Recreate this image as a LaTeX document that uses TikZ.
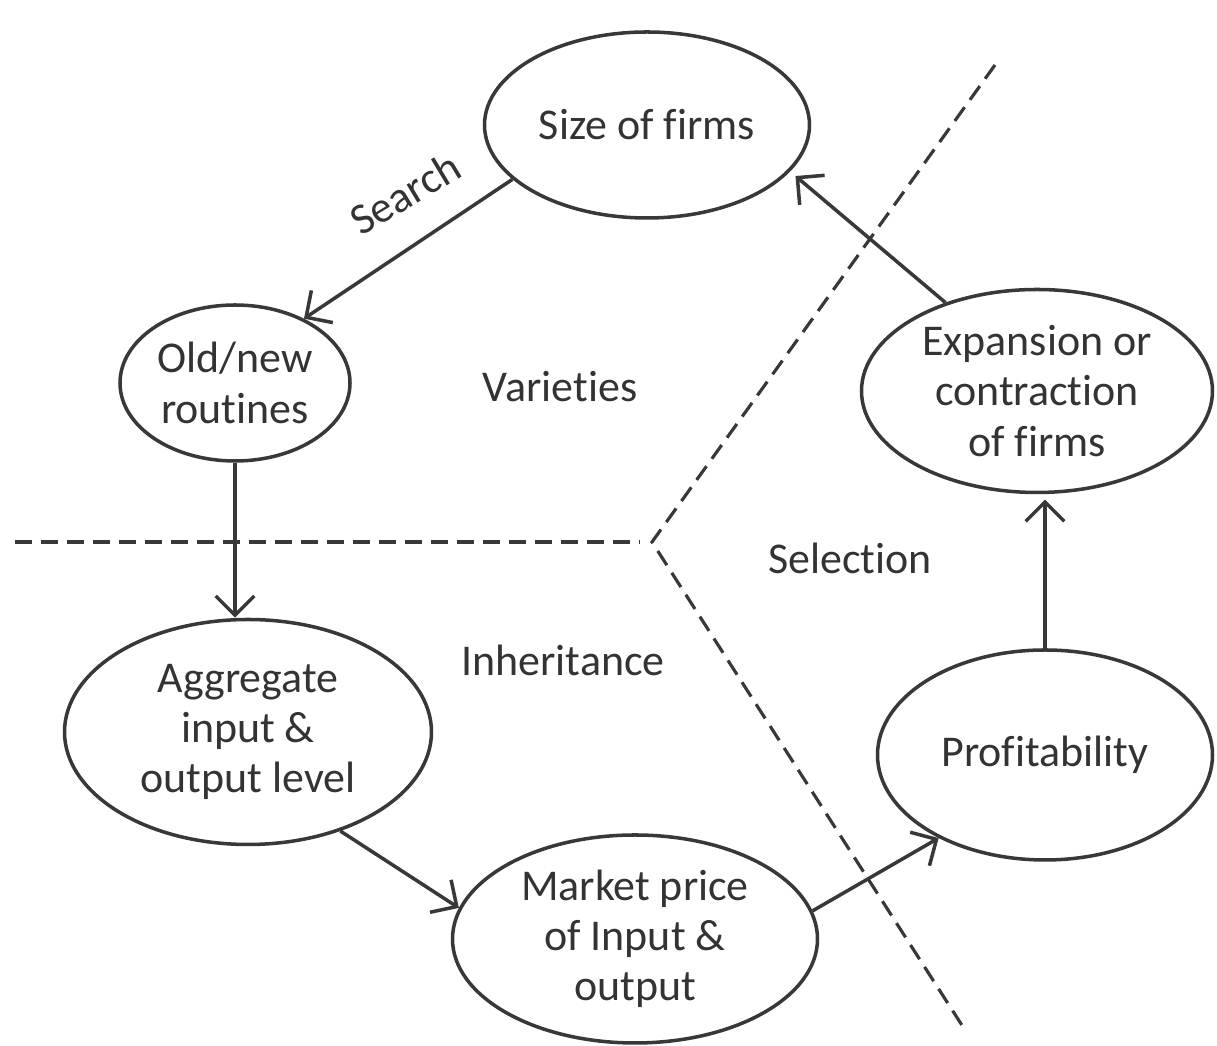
\documentclass[tikz,border=0pt]{standalone}
\usepackage{fontspec}
\setmainfont[Ligatures=NoCommon]{Carlito}
\usetikzlibrary{shapes.geometric, arrows.meta}

\begin{document}
\begin{tikzpicture}[>={Straight Barb[length=5.5pt,width=11pt]}, line width=1pt, draw=black!78, text=black!80,
    every node/.style={font=\fontsize{12.5}{14.3}\selectfont, align=center},
    state/.style={ellipse, draw, inner sep=0pt},
    divider/.style={dashed, dash pattern=on 4.8pt off 2.6pt, line width=0.9pt}]
    \useasboundingbox (0,0) rectangle (12.17,-10.46);

    % Define ellipses
    \node[state, minimum width=3.25cm, minimum height=1.86cm] (size) at (6.47,-1.25) {Size of firms};
    \node[state, minimum width=2.30cm, minimum height=1.56cm] (old) at (2.35,-3.83) {Old/new\\routines};
    \node[state, minimum width=3.51cm, minimum height=2.03cm] (exp) at (10.37,-3.91) {Expansion or\\contraction\\of firms};
    \node[state, minimum width=3.67cm, minimum height=2.25cm] (agg) at (2.48,-7.32) {Aggregate\\input \&\\output level};
    \node[state, minimum width=3.65cm, minimum height=2.08cm] (mkt) at (6.35,-9.39) {Market price\\of Input \&\\output};
    \node[state, minimum width=3.35cm, minimum height=2.10cm] (prof) at (10.45,-7.55) {Profitability};

    % Region labels
    \node[rotate=31] (search) at (4.05,-1.93) {Search};
    \node (varieties) at (5.60,-3.87) {Varieties};
    \node (selection) at (8.50,-5.58) {Selection};
    \node (inherit) at (5.63,-6.60) {Inheritance};

    % Dashed dividers
    \coordinate (dleft) at (0.15,-5.42);
    \coordinate (dend) at (6.40,-5.42);
    \coordinate (dtop) at (9.95,-0.65);
    \coordinate (dmid) at (6.52,-5.42);
    \coordinate (dbot) at (9.65,-10.30);
    \draw[divider] (dleft) -- (dend);
    \draw[divider] (dtop) -- (dmid) -- (dbot);

    % Draw arrows
    \draw[->] (size.202) -- (old.43);
    \draw[->] (old.south) -- (old.south |- agg.north);
    \draw[->] (agg.-47) -- (mkt.170);
    \draw[->] (mkt.9) -- (prof.218);
    \draw[->, shorten >=1.5pt] (prof.north) -- (prof.north |- exp.south);
    \draw[->, shorten >=2pt] (exp.136) -- (size.-18);
\end{tikzpicture}
\end{document}
